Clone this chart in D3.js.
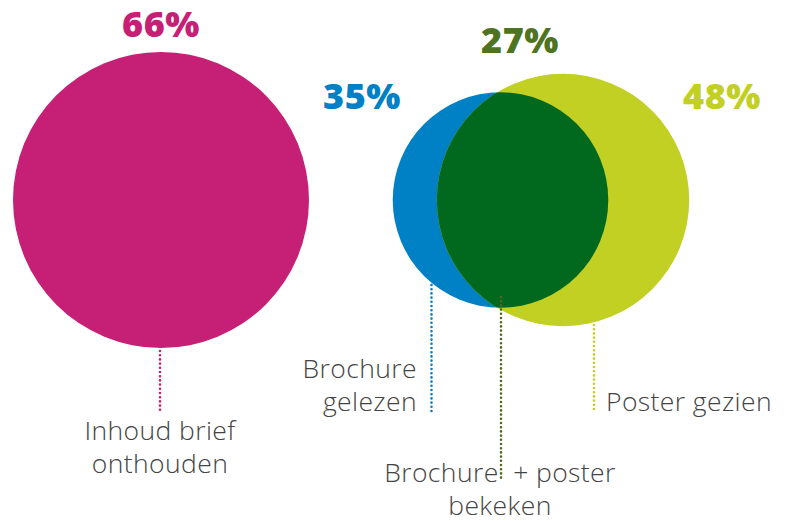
<!DOCTYPE html>
<html>
<head>
<meta charset="utf-8">
<script src="https://cdn.jsdelivr.net/npm/d3@7"></script>
<style>
  body { margin: 0; background: #fff; }
  svg { display: block; }
</style>
</head>
<body>
<svg id="chart"></svg>
<script>
// data
const names  = ["Inhoud brief", "Brochure gelezen", "Poster gezien", "Brochure + poster bekeken"];
const values = [66, 35, 48, 27];
const colors = ["#c61f76", "#0080c5", "#c2cf23", "#00691e"];
const labelColors = ["#c61f76", "#0080c5", "#c2cf23", "#4e7421"];
const labelLines = [["Inhoud brief", "onthouden"], ["Brochure", "gelezen"], ["Poster gezien"], ["Brochure  + poster", "bekeken"]];

const width = 785, height = 521;
const cy = 200;
const r = d3.scaleSqrt().domain([0, 66]).range([0, 148]);

const svg = d3.select("#chart")
  .attr("width", width)
  .attr("height", height)
  .attr("viewBox", [0, 0, width, height]);

const cx = [161, 500.5, 563]; // centre of single, blue, yellow circle
const rr = values.map(v => r(v));

// big circle
svg.append("circle")
  .attr("cx", cx[0]).attr("cy", cy).attr("r", rr[0])
  .attr("fill", colors[0]);

// venn
svg.append("defs").append("clipPath").attr("id", "clipBlue")
  .append("circle").attr("cx", cx[1]).attr("cy", cy).attr("r", rr[1]);

svg.append("circle")
  .attr("cx", cx[1]).attr("cy", cy).attr("r", rr[1])
  .attr("fill", colors[1]);
svg.append("circle")
  .attr("cx", cx[2]).attr("cy", cy).attr("r", rr[2])
  .attr("fill", colors[2]);
svg.append("circle")
  .attr("cx", cx[2]).attr("cy", cy).attr("r", rr[2])
  .attr("clip-path", "url(#clipBlue)")
  .attr("fill", colors[3]);

// percentages
const pctPos = [[161, 37], [362, 109], [722, 109], [520, 53]];
svg.append("g")
  .attr("font-family", "'Open Sans', sans-serif")
  .attr("font-weight", 800)
  .attr("font-size", 36)
  .attr("text-anchor", "middle")
  .selectAll("text")
  .data(values)
  .join("text")
    .attr("x", (d, i) => pctPos[i][0])
    .attr("y", (d, i) => pctPos[i][1])
    .attr("fill", (d, i) => labelColors[i])
    .attr("letter-spacing", 0.5)
    .text(d => d + "%");

// leader lines
const leaders = [
  {x: 160, y1: 351, y2: 410, c: colors[0]},
  {x: 431.5, y1: 285, y2: 412, c: colors[1]},
  {x: 594, y1: 325, y2: 411, c: colors[2]},
  {x: 501, y1: 297, y2: 478, c: "#4e6b1f"}
];
svg.append("g")
  .selectAll("line")
  .data(leaders)
  .join("line")
    .attr("x1", d => d.x).attr("x2", d => d.x)
    .attr("y1", d => d.y1).attr("y2", d => d.y2)
    .attr("stroke", d => d.c)
    .attr("stroke-width", 2.6)
    .attr("stroke-linecap", "round")
    .attr("stroke-dasharray", "0,4.2");

// category labels
const lblPos = [
  {x: 160, y: 440, anchor: "middle"},
  {x: 417, y: 378, anchor: "end"},
  {x: 606, y: 411, anchor: "start"},
  {x: 500, y: 482, anchor: "middle"}
];
const lbl = svg.append("g")
  .attr("font-family", "'Open Sans', sans-serif")
  .attr("font-weight", 300)
  .attr("font-size", 26.5)
  .attr("letter-spacing", 0.4)
  .attr("fill", "#444");
labelLines.forEach((lines, i) => {
  const t = lbl.append("text")
    .attr("x", lblPos[i].x)
    .attr("y", lblPos[i].y)
    .attr("text-anchor", lblPos[i].anchor);
  lines.forEach((s, j) => {
    t.append("tspan")
      .attr("x", lblPos[i].x)
      .attr("dy", j === 0 ? 0 : 32.5)
      .style("white-space", "pre")
      .text(s);
  });
});
</script>
</body>
</html>
